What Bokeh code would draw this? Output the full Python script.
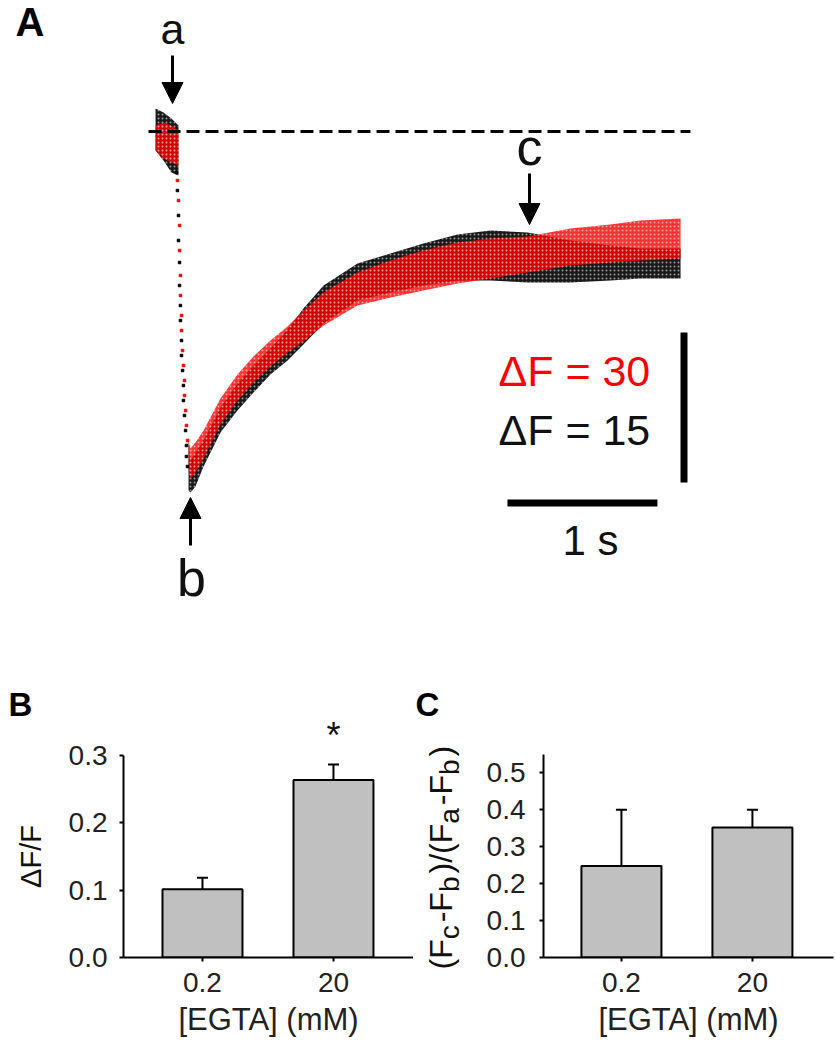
import math
from bokeh.plotting import figure
from bokeh.layouts import column, row
from bokeh.models import (Range1d, FixedTicker, NumeralTickFormatter, Arrow, NormalHead,
                          Label, Whisker, TeeHead, ColumnDataSource)
from bokeh.embed import file_html
from bokeh.resources import INLINE

FONT = "Liberation Sans"
RED = "#ff0000"
GRAY = "#c0c0c0"

# ---------------- Panel A data (time in s, fluorescence change in ΔF units of the red trace) ----
rest_level = 0.0
base_t = [0.047, 0.10, 0.153, 0.20]
base_black_hi = [4.6, 3.8, 2.6, 1.2]
base_black_lo = [-3.8, -5.8, -8.2, -8.8]
base_red_hi = [1.2, 1.8, 1.2, 0.2]
base_red_lo = [-3.8, -5.4, -6.2, -6.8]

drop_black_t = [0.187, 0.193, 0.200, 0.200, 0.207, 0.207, 0.213, 0.213, 0.220, 0.220,
                0.227, 0.233, 0.233, 0.240, 0.247, 0.253, 0.253, 0.260]
drop_black_y = [-8.2, -11.8, -16.8, -21.8, -26.2, -30.8, -34.8, -37.8, -41.8, -44.8,
                -47.8, -50.8, -53.8, -56.8, -59.8, -62.8, -65.0, -67.0]
drop_red_t = [0.193, 0.200, 0.207, 0.207, 0.213, 0.213, 0.220, 0.220, 0.227, 0.233,
              0.240, 0.240, 0.247, 0.253, 0.260]
drop_red_y = [-9.8, -13.8, -18.8, -23.8, -28.8, -32.8, -36.8, -39.8, -43.8, -46.8,
              -49.8, -52.8, -55.8, -58.8, -61.8]

rec_t = [0.267, 0.28, 0.313, 0.367, 0.48, 0.593, 0.70, 0.813, 0.927, 1.033, 1.167, 1.393,
         1.613, 1.833, 2.06, 2.28, 2.527, 2.813, 3.08, 3.28, 3.547]
black_hi = [-61.8, -65.8, -64.2, -61.8, -55.2, -50.4, -46.8, -43.4, -39.6, -35.4, -30.8, -26.4,
            -24.4, -22.4, -20.6, -19.8, -20.2, -21.8, -22.8, -23.4, -23.4]
black_lo = [-71.8, -72.2, -71.0, -67.0, -60.2, -55.8, -52.2, -48.6, -45.8, -42.6, -38.4, -33.8,
            -32.2, -30.8, -29.8, -29.8, -30.2, -30.2, -29.8, -29.4, -29.4]
red_hi = [-61.8, -63.4, -62.2, -59.8, -53.4, -48.6, -45.0, -41.8, -39.0, -35.8, -32.2, -28.2,
          -25.8, -23.8, -22.2, -21.4, -21.0, -19.4, -18.6, -17.8, -17.4]
red_lo = [-67.8, -69.4, -68.2, -65.4, -58.6, -53.8, -50.2, -47.0, -44.2, -42.0, -38.8, -34.8,
          -33.2, -31.8, -30.4, -29.4, -28.2, -26.8, -26.2, -25.8, -25.4]

scale_time_s = 1.0
scale_dF_red = 30
scale_dF_black = 15

# ---------------- Panels B and C data ----------------
egta_mM = ["0.2", "20"]
dff_mean = [0.101, 0.263]
dff_sem = [0.017, 0.023]
recovery_mean = [0.248, 0.352]
recovery_sem = [0.152, 0.048]


def lab(p, x, y, text, size, color="#111111", align="center", bold=False, angle=0.0, xo=0.0, yo=0.0):
    # compensate the renderer's baseline placement (about 0.4 em below the requested baseline)
    if angle == 0.0:
        yo += 0.4 * size
    else:
        xo -= 0.4 * size
    p.add_layout(Label(x=x, y=y, text=text, text_font=FONT, text_font_size=f"{size}px",
                       text_color=color, text_align=align, text_baseline="alphabetic",
                       text_font_style="bold" if bold else "normal", angle=angle,
                       x_offset=xo, y_offset=yo))


def arrow(p, x, y0, y1):
    p.add_layout(Arrow(end=NormalHead(size=21, fill_color="black", line_color="black", line_width=1),
                       x_start=x, y_start=y0, x_end=x, y_end=y1, line_width=3, line_color="black"))


# ================= Panel A =================
pA = figure(width=836, height=628, x_range=Range1d(-0.98667, 4.58667), y_range=Range1d(-99.4, 26.2),
            x_axis_type=None, y_axis_type=None, toolbar_location=None, output_backend="svg",
            min_border=0, outline_line_color=None, frame_align=False)

hatch = dict(hatch_pattern="dot", hatch_color="white", hatch_scale=4, hatch_alpha=0.55, hatch_weight=1)
pA.varea(x=base_t, y1=base_black_lo, y2=base_black_hi, fill_color="black", fill_alpha=0.9, **hatch)
pA.varea(x=base_t, y1=base_red_lo, y2=base_red_hi, fill_color=RED, fill_alpha=0.8, **hatch)
pA.varea(x=rec_t, y1=black_lo, y2=black_hi, fill_color="black", fill_alpha=0.9, **hatch)
pA.varea(x=rec_t, y1=red_lo, y2=red_hi, fill_color=RED, fill_alpha=0.8, **hatch)
pA.scatter(x=drop_black_t, y=drop_black_y, marker="square", size=2.5, color="black")
pA.scatter(x=drop_red_t, y=drop_red_y, marker="square", size=2.5, color=RED)

pA.line(x=[0.0, 3.613], y=[rest_level, rest_level], line_color="black", line_width=3, line_dash="13 6")

arrow(pA, 0.16, 15.2, 5.6)
arrow(pA, 2.54, -8.4, -18.6)
arrow(pA, 0.28, -82.8, -73.2)
lab(pA, -0.887, 18.8, "A", 40, color="black", align="left", bold=True)
lab(pA, 0.16, 17.0, "a", 43)
lab(pA, 2.54, -7.2, "c", 52)
lab(pA, 0.287, -93.4, "b", 52)

pA.segment(x0=[3.57], y0=[-70.2], x1=[3.57], y1=[-70.2 + scale_dF_red], line_width=7, line_color="black")
pA.segment(x0=[2.393], y0=[-74.3], x1=[2.393 + scale_time_s], y1=[-74.3], line_width=7, line_color="black")
lab(pA, 2.333, -51.4, f"ΔF = {scale_dF_red}", 43, color=RED, align="left")
lab(pA, 2.333, -63.2, f"ΔF = {scale_dF_black}", 43, color="#111111", align="left")
lab(pA, 2.947, -85.2, f"{scale_time_s:g} s", 42)

# ================= bar panels =================
ROW_H = 420
TOP = 628  # page y where the lower row starts


def style_axes(p, yticks, ybound):
    for ax in (p.xaxis[0], p.yaxis[0]):
        ax.axis_line_width = 2
        ax.major_tick_line_width = 2
        ax.major_tick_out = 4
        ax.major_tick_in = 0
        ax.minor_tick_line_color = None
        ax.major_label_text_font = FONT
        ax.major_label_text_font_size = "28px"
        ax.major_label_text_color = "#222222"
    p.xaxis.ticker = FixedTicker(ticks=[1, 2])
    p.xaxis.major_label_overrides = {1: egta_mM[0], 2: egta_mM[1]}
    p.xaxis.major_label_standoff = 11
    p.xaxis.axis_label = "[EGTA] (mM)"
    p.xaxis.axis_label_text_font = FONT
    p.xaxis.axis_label_text_font_size = "31px"
    p.xaxis.axis_label_text_font_style = "normal"
    p.xaxis.axis_label_text_color = "#222222"
    p.xaxis.axis_label_standoff = 7
    p.yaxis.ticker = FixedTicker(ticks=yticks)
    p.yaxis.formatter = NumeralTickFormatter(format="0.0")
    p.yaxis.bounds = ybound
    p.yaxis.major_label_standoff = 12
    p.grid.visible = False


def bars(p, means, sems):
    p.vbar(x=[1, 2], top=means, width=80 / 131, fill_color=GRAY, line_color="black", line_width=2)
    src = ColumnDataSource(dict(x=[1, 2], lower=means, upper=[m + s for m, s in zip(means, sems)]))
    p.add_layout(Whisker(base="x", lower="lower", upper="upper", source=src, dimension="height",
                         line_width=2, line_color="black", lower_head=None,
                         upper_head=TeeHead(size=11, line_width=2, line_color="black")))


def label_strip(x0, x1):
    # blank strip (page-pixel coordinates) holding panel letters and rotated y-axis titles
    return figure(width=x1 - x0, height=ROW_H, x_range=Range1d(x0, x1), y_range=Range1d(TOP + ROW_H, TOP),
                  x_axis_type=None, y_axis_type=None, toolbar_location=None, output_backend="svg",
                  min_border=0, outline_line_color=None, frame_align=False)


# Panel B
pBL = label_strip(0, 50)
lab(pBL, 8, 717, "B", 33, color="black", align="left", bold=True)
lab(pBL, 42, 856, "ΔF/F", 29, angle=math.pi / 2)

pB = figure(width=363, height=ROW_H, x_range=Range1d(0.397, 2.611), y_range=Range1d(0, 0.36),
            toolbar_location=None, output_backend="svg", min_border_left=73, min_border_right=0,
            min_border_top=86, min_border_bottom=ROW_H - 86 - 243, outline_line_color=None,
            frame_align=False)
style_axes(pB, [0, 0.1, 0.2, 0.3], (0, 0.3))
bars(pB, dff_mean, dff_sem)
lab(pB, 2.0, 0.308, "*", 36, color="#111111")

# Panel C
pCL = label_strip(413, 470)
lab(pCL, 415, 717, "C", 33, color="black", align="left", bold=True)
ADV = {'(': .333, ')': .333, 'F': .611, '-': .333, '/': .278, 'a': .556, 'b': .556, 'c': .5}
pieces = [("(F", False), ("c", True), ("-F", False), ("b", True), (")/(F", False),
          ("a", True), ("-F", False), ("b", True), (")", False)]
MAIN, SUB, GAP = 32, 28, 3
cum = 0.0
for txt, sub in pieces:
    size = SUB if sub else MAIN
    lab(pCL, 453, 969, txt, size, align="left", angle=math.pi / 2, xo=7 if sub else 0, yo=cum)
    cum += sum(ADV[ch] for ch in txt) * size + (GAP if sub else 0)

pC = figure(width=366, height=ROW_H, x_range=Range1d(0.405, 2.619), y_range=Range1d(0, 0.55),
            toolbar_location=None, output_backend="svg", min_border_left=73, min_border_right=3,
            min_border_top=126, min_border_bottom=ROW_H - 126 - 203, outline_line_color=None,
            frame_align=False)
style_axes(pC, [0, 0.1, 0.2, 0.3, 0.4, 0.5], (0, 0.55))
pC.yaxis.major_label_standoff = 14
bars(pC, recovery_mean, recovery_sem)

layout = column(pA, row(pBL, pB, pCL, pC))
open("out.html", "w").write(file_html(layout, INLINE))
